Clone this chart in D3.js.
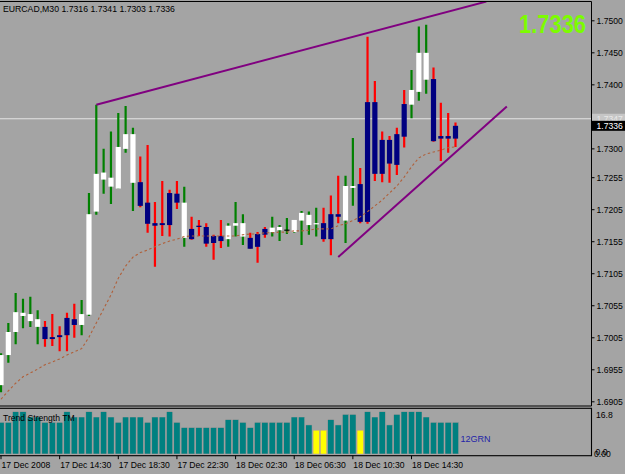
<!DOCTYPE html>
<html><head><meta charset="utf-8">
<script src="https://cdn.jsdelivr.net/npm/d3@7"></script>
<style>
body{margin:0;background:#a4a4a4;overflow:hidden}
svg{display:block}
text{font-family:"Liberation Sans",Arial,sans-serif}
</style>
</head><body>
<svg id="chart" width="625" height="474"></svg>
<script>
// ---------- DATA ----------
const symbol = "EURCAD,M30";
const lastQuote = [1.7316, 1.7341, 1.7303, 1.7336]; // O H L C shown in header
const bidPrice = 1.7336;
const askLine = 1.7347;

const opens = [1.6931,1.6978,1.7014,1.7039,1.7031,1.7022,1.7022,1.7006,1.7009,1.7036,
1.7034,1.7025,1.7041,1.7202,1.7252,1.7241,1.7238,1.7300,1.7247,1.7248,
1.7216,1.7184,1.7184,1.7231,1.7230,1.7161,1.7175,1.7180,1.7178,1.7164,
1.7164,1.7159,1.7180,1.7163,1.7161,1.7167,1.7175,1.7170,1.7173,1.7173,
1.7170,1.7188,1.7181,1.7183,1.7184,1.7198,1.7198,1.7188,1.7239,1.7245,
1.7373,1.7373,1.7314,1.7314,1.7323,1.7370,1.7369,1.7389,1.7408,1.7409,
1.7320,1.7320,1.7336];
const highs = [1.6981,1.7028,1.7075,1.7066,1.7069,1.7048,1.7031,1.7042,1.7023,1.7044,
1.7058,1.7064,1.7231,1.7369,1.7300,1.7327,1.7356,1.7367,1.7333,1.7288,
1.7306,1.7217,1.7250,1.7236,1.7250,1.7241,1.7194,1.7189,1.7184,1.7166,
1.7189,1.7184,1.7217,1.7198,1.7169,1.7170,1.7178,1.7194,1.7181,1.7192,
1.7189,1.7203,1.7202,1.7208,1.7208,1.7227,1.7258,1.7258,1.7317,1.7270,
1.7475,1.7406,1.7327,1.7320,1.7333,1.7392,1.7423,1.7491,1.7494,1.7427,
1.7372,1.7356,1.7341];
const lows = [1.6920,1.6966,1.6995,1.7020,1.7022,1.6995,1.6991,1.6992,1.6984,1.6984,
1.7005,1.7009,1.7039,1.7197,1.7230,1.7214,1.7238,1.7294,1.7203,1.7209,
1.7169,1.7116,1.7164,1.7163,1.7206,1.7147,1.7158,1.7164,1.7147,1.7127,
1.7145,1.7147,1.7163,1.7150,1.7144,1.7122,1.7161,1.7163,1.7156,1.7167,
1.7169,1.7150,1.7166,1.7163,1.7155,1.7134,1.7184,1.7153,1.7211,1.7184,
1.7183,1.7250,1.7248,1.7247,1.7259,1.7302,1.7348,1.7375,1.7386,1.7311,
1.7281,1.7294,1.7303];
const closes = [1.6978,1.7014,1.7045,1.7044,1.7042,1.7034,1.7003,1.7003,1.7006,1.7009,
1.7025,1.7042,1.7198,1.7261,1.7263,1.7255,1.7303,1.7323,1.7323,1.7211,
1.7183,1.7180,1.7181,1.7181,1.7216,1.7216,1.7159,1.7178,1.7152,1.7153,
1.7156,1.7180,1.7184,1.7184,1.7144,1.7147,1.7166,1.7177,1.7178,1.7173,
1.7189,1.7200,1.7197,1.7184,1.7159,1.7159,1.7194,1.7242,1.7242,1.7186,
1.7186,1.7261,1.7261,1.7277,1.7275,1.7319,1.7392,1.7450,1.7450,1.7312,
1.7316,1.7316,1.7316];

const maValues = [1.6909,1.6922,1.6934,1.6944,1.6950,1.6956,1.6963,1.6967,1.6972,1.6978,
1.6983,1.6988,1.7006,1.7028,1.7050,1.7072,1.7098,1.7117,1.7131,1.7138,
1.7142,1.7147,1.7152,1.7156,1.7159,1.7163,1.7164,1.7164,1.7164,1.7164,
1.7164,1.7164,1.7164,1.7166,1.7167,1.7167,1.7169,1.7169,1.7170,1.7170,
1.7172,1.7172,1.7173,1.7175,1.7175,1.7175,1.7180,1.7183,1.7188,1.7194,
1.7202,1.7211,1.7220,1.7231,1.7242,1.7256,1.7272,1.7286,1.7292,1.7295,
1.7298,1.7302,1.7303];

const strength = [12,12,16,16,14,14,12,12,12,16,
14,14,16,14,16,14,12,14,14,14,
12,14,14,16,12,10,10,10,10,10,
10,13,13,12,10,12,12,12,12,12,
14,14,11,9,9,13,11,15,15,9,
16,14,16,11,15,16,16,16,14,12,
12,12,12];
const strengthSignal = ["GRN","GRN","GRN","GRN","GRN","GRN","GRN","GRN","GRN","GRN",
"GRN","GRN","GRN","GRN","GRN","GRN","GRN","GRN","GRN","GRN",
"GRN","GRN","GRN","GRN","GRN","GRN","GRN","GRN","GRN","GRN",
"GRN","GRN","GRN","GRN","GRN","GRN","GRN","GRN","GRN","GRN",
"GRN","GRN","GRN","YEL","YEL","GRN","GRN","GRN","GRN","YEL",
"GRN","GRN","GRN","GRN","GRN","GRN","GRN","GRN","GRN","GRN",
"GRN","GRN","GRN"];
const strengthMax = 16.8;

const priceTicks = [1.7500,1.7450,1.7400,1.7300,1.7255,1.7205,1.7155,1.7105,1.7055,1.7005,1.6955,1.6905];
const timeTickBars = [0,8,16,24,32,40,48,56];
const timeTickLabels = ["17 Dec 2008","17 Dec 14:30","17 Dec 18:30","17 Dec 22:30","18 Dec 02:30","18 Dec 06:30","18 Dec 10:30","18 Dec 14:30"];

const upperTrend = [{bar:13, price:1.7369},{bar:66.2, price:1.7530}];
const lowerTrend = [{bar:46, price:1.7131},{bar:69, price:1.7366}];

// ---------- CHART ----------
const svg = d3.select("#chart");
const W = 625, H = 474;
const axisX = 591.5, mainTop = 1.5, mainBottom = 406, indTop = 408.3, indBottom = 455.7;

svg.append("rect").attr("width",W).attr("height",H).attr("fill","#a4a4a4");

const x = d3.scaleLinear().domain([0, 62]).range([1, 455.5]);
const y = d3.scaleLinear().domain([1.6905, 1.75]).range([401.8, 20.8]);
const ys = d3.scaleLinear().domain([0, strengthMax]).range([454, 409.6]);

const defs = svg.append("defs");
defs.append("clipPath").attr("id","clipMain").append("rect")
  .attr("x",0).attr("y",mainTop+0.5).attr("width",axisX).attr("height",mainBottom-mainTop-1);
defs.append("clipPath").attr("id","clipInd").append("rect")
  .attr("x",0).attr("y",indTop+0.5).attr("width",axisX).attr("height",indBottom-indTop-1);

const main = svg.append("g").attr("clip-path","url(#clipMain)");

// ask line
main.append("line").attr("x1",0).attr("x2",axisX).attr("y1",y(askLine)).attr("y2",y(askLine))
  .attr("stroke","#e4e4e4").attr("stroke-width",1);

const candles = opens.map((o,i)=>({i,o,h:highs[i],l:lows[i],c:closes[i]}));

main.selectAll("line.wick").data(candles).join("line").attr("class","wick")
  .attr("x1",d=>x(d.i)).attr("x2",d=>x(d.i))
  .attr("y1",d=>y(d.h)).attr("y2",d=>y(d.l))
  .attr("stroke",d=>d.c>=d.o?"#008000":"#ff0000").attr("stroke-width",2.2);

main.selectAll("rect.body").data(candles).join("rect").attr("class","body")
  .attr("x",d=>x(d.i)-2.6).attr("width",5.2)
  .attr("y",d=>d.c===d.o ? y(d.o)-0.6 : y(Math.max(d.o,d.c)))
  .attr("height",d=>Math.max(1.2,Math.abs(y(d.o)-y(d.c))))
  .attr("fill",d=>d.c>d.o?"#ffffff":(d.c<d.o?"#000080":"#000000"));

// moving average
main.append("path").datum(maValues)
  .attr("d", d3.line().x((d,i)=>x(i)).y(d=>y(d)))
  .attr("fill","none").attr("stroke","#b0603a").attr("stroke-width",1.1)
  .attr("stroke-dasharray","2.5,2.5");

// trend lines
const tl = d3.line().x(d=>x(d.bar)).y(d=>y(d.price));
[upperTrend, lowerTrend].forEach(t=>{
  main.append("path").datum(t).attr("d",tl)
    .attr("fill","none").attr("stroke","#800080").attr("stroke-width",2);
});

// panel borders
svg.append("line").attr("x1",0).attr("x2",axisX).attr("y1",mainTop).attr("y2",mainTop).attr("stroke","#000").attr("stroke-width",1.2);
svg.append("line").attr("x1",0).attr("x2",axisX).attr("y1",mainBottom).attr("y2",mainBottom).attr("stroke","#000").attr("stroke-width",1.2);
svg.append("line").attr("x1",axisX).attr("x2",axisX).attr("y1",mainTop).attr("y2",mainBottom).attr("stroke","#000").attr("stroke-width",1);
svg.append("rect").attr("x",-1).attr("y",indTop).attr("width",axisX+1).attr("height",indBottom-indTop)
  .attr("fill","none").attr("stroke","#000").attr("stroke-width",1.1);

// header
svg.append("text").attr("x",3).attr("y",11.5).attr("font-size",8.7).attr("fill","#000")
  .text(symbol + "  " + lastQuote.map(v=>v.toFixed(4)).join(" "));

// big price
svg.append("text").attr("x",519).attr("y",33).attr("font-size",25).attr("font-weight","bold")
  .attr("fill","#7cfc00").attr("textLength",67).attr("lengthAdjust","spacingAndGlyphs")
  .text(bidPrice.toFixed(4));

// price axis
const pa = svg.append("g");
pa.selectAll("line").data(priceTicks).join("line")
  .attr("x1",axisX).attr("x2",axisX+3).attr("y1",d=>y(d)).attr("y2",d=>y(d)).attr("stroke","#000");
pa.selectAll("text").data(priceTicks).join("text")
  .attr("x",596.5).attr("y",d=>y(d)+3.2).attr("font-size",8.6).attr("fill","#000")
  .text(d=>d.toFixed(4));

// ask label
svg.append("rect").attr("x",592).attr("y",y(askLine)-5).attr("width",33).attr("height",9.5).attr("fill","#c6c6c6");
svg.append("text").attr("x",596.5).attr("y",y(askLine)+3).attr("font-size",8.6).attr("fill","#e8e8e8").text(askLine.toFixed(4));
// bid label
svg.append("rect").attr("x",592).attr("y",y(bidPrice)-5).attr("width",33).attr("height",10).attr("fill","#000");
svg.append("text").attr("x",596.5).attr("y",y(bidPrice)+3.2).attr("font-size",8.6).attr("fill","#fff").text(bidPrice.toFixed(4));

// indicator panel
const ind = svg.append("g").attr("clip-path","url(#clipInd)");
ind.selectAll("rect").data(strength).join("rect")
  .attr("x",(d,i)=>x(i)-3.15).attr("width",6.3)
  .attr("y",d=>ys(d)).attr("height",d=>ys(0)-ys(d))
  .attr("fill",(d,i)=>strengthSignal[i]==="YEL"?"#ffff00":"#008080")
  .attr("stroke","#b49c9c").attr("stroke-width",0.5);

svg.append("text").attr("x",3).attr("y",420.5).attr("font-size",8.6).attr("fill","#000").text("Trend Strength TM");
svg.append("text").attr("x",x(62)+5).attr("y",442).attr("font-size",9).attr("fill","#2323a8")
  .text(strength[strength.length-1] + strengthSignal[strengthSignal.length-1]);

svg.append("text").attr("x",596).attr("y",418).attr("font-size",8.6).attr("fill","#000").text(strengthMax.toFixed(1));
svg.append("text").attr("x",594).attr("y",456.5).attr("font-size",8.6).attr("fill","#000").text((0).toFixed(2));
svg.append("text").attr("x",595.5).attr("y",454.5).attr("font-size",8.6).attr("fill","#000").text((0).toFixed(1));

// time axis
const ta = svg.append("g");
ta.selectAll("line").data(timeTickBars).join("line")
  .attr("x1",d=>x(d)).attr("x2",d=>x(d)).attr("y1",indBottom).attr("y2",indBottom+3.5).attr("stroke","#000");
ta.selectAll("text").data(timeTickBars).join("text")
  .attr("x",d=>x(d)+0.5).attr("y",468).attr("font-size",8.6).attr("fill","#000")
  .text((d,i)=>timeTickLabels[i]);
</script>
</body></html>
